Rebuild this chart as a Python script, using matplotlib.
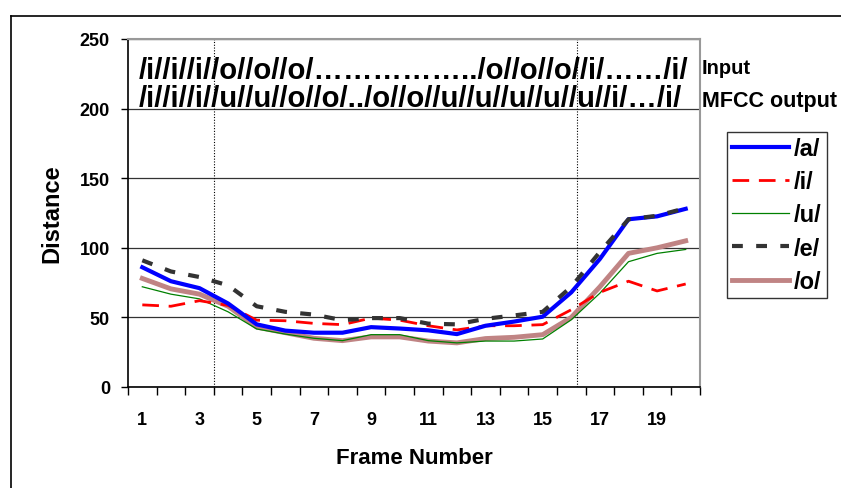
import numpy as np
import matplotlib.pyplot as plt
from matplotlib.lines import Line2D

plt.rcParams['font.family'] = ['Liberation Sans Narrow', 'Liberation Sans', 'DejaVu Sans']
plt.rcParams['font.weight'] = 'bold'

# distance per frame for each vowel model
frames = np.arange(1, 21)
dist_a = [86, 76, 71, 60, 45, 40.5, 39, 39, 43, 42, 40.7, 38, 44, 47, 50.5, 68, 92, 120.5, 122.6, 128]
dist_i = [59, 58, 62, 58.6, 48, 47.6, 45.7, 44.8, 49.5, 48, 44, 41, 44, 44, 44.8, 55.5, 68, 76, 69, 74]
dist_u = [72, 66.7, 63.3, 54, 41.7, 38, 35, 33.3, 37.6, 37.6, 33.3, 31.7, 33, 33, 34.5, 48.3, 67.4, 90, 96, 98.8]
dist_e = [91, 83, 79, 73, 58, 54, 52, 48, 49.5, 49.5, 45.5, 45, 49, 51.4, 54, 72, 97, 120.5, 123, 128.5]
dist_o = [78, 70.5, 66.7, 58, 43, 39, 35, 33.3, 36, 36, 33, 31.7, 34.8, 35.7, 37.6, 50, 72, 96, 100, 105]

input_seq = "/i//i//i//o//o//o/……………../o//o//o//i/……/i/"
mfcc_seq = "/i//i//i//u//u//o//o/../o//o//u//u//u//u//u//i/…/i/"
segment_marks = [3.5, 16.2]

fig = plt.figure(figsize=(8.41, 4.89), dpi=100)
ax = fig.add_axes([128 / 841, 1 - 388 / 489, 572 / 841, 348 / 489])

# frame around the whole figure (top and left edges)
fig.add_artist(Line2D([11 / 841, 1], [1 - 17 / 489] * 2, color='black', lw=1.2))
fig.add_artist(Line2D([11 / 841] * 2, [0, 1 - 17 / 489], color='black', lw=1.2))

ax.plot(frames, dist_a, color='#0000ff', lw=3, label='/a/', zorder=5)
ax.plot(frames, dist_i, color='#ff0000', lw=2, dashes=(6, 3.5), label='/i/', zorder=4)
ax.plot(frames, dist_u, color='#008000', lw=0.9, label='/u/', zorder=3)
ax.plot(frames, dist_e, color='#333333', lw=3, dashes=(2.6, 3.2), label='/e/', zorder=6)
ax.plot(frames, dist_o, color='#c08484', lw=3.5, label='/o/', zorder=2)

for xm in segment_marks:
    ax.axvline(xm, color='black', lw=0.8, ls=(0, (1, 1.5)), zorder=1)

ax.set_xlim(0.5, 20.5)
ax.set_ylim(0, 250)
ax.set_yticks(np.arange(0, 251, 50))
ax.yaxis.grid(True, color='#333333', lw=0.9)
ax.set_axisbelow(True)

ax.set_xticks(np.arange(0.5, 21, 1))
ax.set_xticklabels([])
ax.set_xticks(frames[::2], minor=True)
ax.set_xticklabels([str(f) for f in frames[::2]], minor=True)
ax.tick_params(axis='x', which='major', direction='out', length=6, width=1)
ax.tick_params(axis='x', which='minor', length=0, pad=17, labelsize=13)
ax.tick_params(axis='y', direction='out', length=5, width=1, labelsize=13, pad=8)

for side in ('top', 'right'):
    ax.spines[side].set_color('#999999')
    ax.spines[side].set_linewidth(1.5)
for side in ('left', 'bottom'):
    ax.spines[side].set_color('black')
    ax.spines[side].set_linewidth(1.2)

ax.set_ylabel('Distance', fontsize=17, fontweight='bold', labelpad=12)
ax.set_xlabel('Frame Number', fontsize=16, fontweight='bold', labelpad=14)

ax.text(0.018, 0.91, input_seq, transform=ax.transAxes, fontsize=21.2, fontweight='bold', va='center')
ax.text(0.018, 0.83, mfcc_seq, transform=ax.transAxes, fontsize=21.2, fontweight='bold', va='center')
fig.text(702 / 841, 1 - 68 / 489, 'Input', fontsize=14.5, fontweight='bold', va='center')
fig.text(702 / 841, 1 - 102 / 489, 'MFCC output', fontsize=15.5, fontweight='bold', va='center')

leg = fig.legend(loc='upper left', bbox_to_anchor=(727 / 841, 1 - 133 / 489), fontsize=17,
                 frameon=True, fancybox=False, edgecolor='black', handlelength=2.4,
                 labelspacing=0.43, borderpad=0.22, handletextpad=0.2, borderaxespad=0)
leg.get_frame().set_linewidth(1)

fig.savefig('out.png', dpi=100)
